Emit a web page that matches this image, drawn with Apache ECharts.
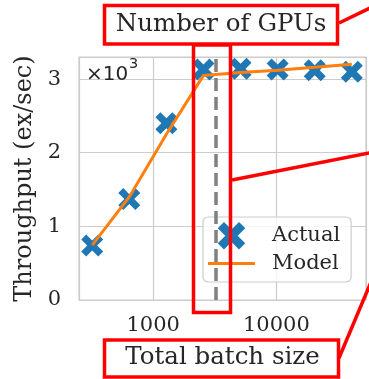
<!DOCTYPE html>
<html>
<head>
<meta charset="utf-8">
<script src="https://cdn.jsdelivr.net/npm/echarts@6/dist/echarts.min.js"></script>
<style>
  html, body { margin: 0; padding: 0; background: #fff; }
  #chart { width: 369px; height: 379px; }
</style>
</head>
<body>
<div id="chart"></div>
<script>
// Throughput vs. total batch size: measured points and the fitted model
const batchSizes = [320, 640, 1280, 2560, 5120, 10240, 20480, 40960];
const actualThroughput = [740, 1370, 2400, 3130, 3140, 3130, 3120, 3100];
const modelThroughput = [745, 1400, 2250, 3050, 3090, 3120, 3160, 3200];
const gpuLimitBatch = 3200;          // batch size where GPU count saturates
const xTickLabels = { 1000: '1000', 10000: '10000' };
const yTickValues = [0, 1000, 2000, 3000];

const textColor = '#262626';
const serif = 'DejaVu Serif';
const red = '#ff0000';

// filled "X" marker
const xMarker = 'path://M0,22.6 L22.6,0 L50,27.4 L77.4,0 L100,22.6 L72.6,50 L100,77.4 L77.4,100 L50,72.6 L22.6,100 L0,77.4 L27.4,50 Z';
// short thick bar used as the line key
const lineKey = 'path://M0,0 L47,0 L47,3 L0,3 Z';

const chart = echarts.init(document.getElementById('chart'), null, { renderer: 'canvas' });

const option = {
  animation: false,
  backgroundColor: '#fff',
  textStyle: { fontFamily: serif, color: textColor },
  grid: {
    left: 79, right: 3, top: 57, bottom: 79,
    show: true, borderColor: '#cccccc', borderWidth: 1.2, backgroundColor: '#fff'
  },
  xAxis: {
    type: 'log',
    logBase: 10,
    min: 250,
    max: 53400,
    name: 'Total batch size',
    nameLocation: 'middle',
    nameGap: 45,
    nameTextStyle: { fontSize: 24.5, color: textColor, fontFamily: serif },
    axisLine: { show: false },
    axisTick: { show: false },
    axisLabel: {
      fontSize: 21, color: textColor, fontFamily: serif, margin: 15,
      showMinLabel: false, showMaxLabel: false,
      formatter: v => xTickLabels[Math.round(v)] || ''
    },
    splitLine: { show: true, lineStyle: { color: '#cccccc', width: 1.2 } }
  },
  yAxis: {
    type: 'value',
    min: 0,
    max: 3300,
    interval: 1000,
    name: 'Throughput (ex/sec)',
    nameLocation: 'middle',
    nameGap: 42,
    nameTextStyle: { fontSize: 24, color: textColor, fontFamily: serif },
    axisLine: { show: false },
    axisTick: { show: false },
    axisLabel: {
      fontSize: 21, color: textColor, fontFamily: serif, margin: 18,
      showMaxLabel: false,
      formatter: v => (yTickValues.includes(v) ? String(v / 1000) : '')
    },
    splitLine: { show: true, lineStyle: { color: '#cccccc', width: 1.2 } }
  },
  legend: {
    orient: 'vertical',
    left: 203,
    top: 217,
    padding: [5, 11, 8, 5],
    itemWidth: 47,
    itemHeight: 27.5,
    itemGap: 3.5,
    symbolKeepAspect: true,
    backgroundColor: 'rgba(255,255,255,0.8)',
    borderColor: '#cccccc',
    borderWidth: 1.2,
    borderRadius: 5,
    textStyle: { fontSize: 21, color: textColor, fontFamily: serif, padding: [0, 0, 0, 12] },
    data: [
      { name: 'Actual', icon: xMarker },
      { name: 'Model', icon: lineKey }
    ]
  },
  series: [
    {
      name: 'Actual',
      type: 'scatter',
      symbol: xMarker,
      symbolSize: 22,
      symbolKeepAspect: true,
      itemStyle: { color: '#1f77b4', opacity: 1 },
      z: 2,
      data: batchSizes.map((b, i) => [b, actualThroughput[i]])
    },
    {
      name: 'Model',
      type: 'line',
      showSymbol: false,
      symbol: 'none',
      lineStyle: { color: '#ff7f0e', width: 3 },
      itemStyle: { color: '#ff7f0e' },
      z: 3,
      data: batchSizes.map((b, i) => [b, modelThroughput[i]]),
      markLine: {
        silent: true,
        symbol: ['none', 'none'],
        label: { show: false },
        lineStyle: { color: '#808080', width: 3.5, type: [13, 6] },
        data: [{ xAxis: gpuLimitBatch }],
        z: 4
      }
    }
  ],
  graphic: [
    // callout box for the GPU count label
    { type: 'rect', shape: { x: 104.5, y: 5.5, width: 233, height: 38.5 },
      style: { fill: '#fff', stroke: red, lineWidth: 3.5 }, z: 100 },
    { type: 'text', x: 221, y: 25,
      style: { text: 'Number of GPUs', font: '24.5px "DejaVu Serif"', fill: textColor,
               align: 'center', verticalAlign: 'middle' }, z: 101 },
    { type: 'line', shape: { x1: 339, y1: 23, x2: 372, y2: 7 },
      style: { stroke: red, lineWidth: 3.5 }, z: 100 },
    // highlight around the saturation line
    { type: 'rect', shape: { x: 193.5, y: 45, width: 37, height: 267.5 },
      style: { fill: 'none', stroke: red, lineWidth: 3.5 }, z: 100 },
    { type: 'line', shape: { x1: 232, y1: 180, x2: 372, y2: 152.5 },
      style: { stroke: red, lineWidth: 3.5 }, z: 100 },
    // callout box around the x axis title
    { type: 'rect', shape: { x: 104.5, y: 340, width: 234, height: 37 },
      style: { fill: 'none', stroke: red, lineWidth: 3.5 }, z: 100 },
    { type: 'line', shape: { x1: 339, y1: 358, x2: 371, y2: 282 },
      style: { stroke: red, lineWidth: 3.5 }, z: 100 },
    // axis multiplier
    { type: 'text', x: 86, y: 75,
      style: { text: '×10', font: '20px "DejaVu Sans"', fill: textColor,
               align: 'left', verticalAlign: 'middle' }, z: 50 },
    { type: 'text', x: 129, y: 64,
      style: { text: '3', font: '14.5px "DejaVu Sans"', fill: textColor,
               align: 'left', verticalAlign: 'middle' }, z: 50 }
  ]
};

chart.setOption(option);
</script>
</body>
</html>
